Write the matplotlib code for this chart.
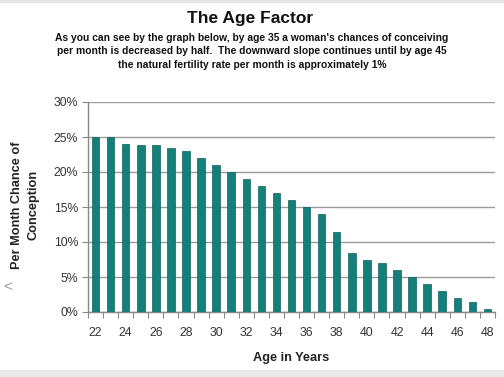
import matplotlib
matplotlib.use("Agg")
import matplotlib.pyplot as plt
from matplotlib.patches import Rectangle
import numpy as np

plt.rcParams['font.family'] = ['Liberation Sans', 'DejaVu Sans']

ages = list(range(22, 49))
rates = [25, 25, 24, 23.8, 23.8, 23.5, 23, 22, 21, 20, 19, 18, 17, 16,
         15, 14, 11.5, 8.5, 7.5, 7, 6, 5, 4, 3, 2, 1.5, 0.5]
yticks = [0, 5, 10, 15, 20, 25, 30]
xtick_labels = [str(a) for a in range(22, 49, 2)]

W, H = 504, 377
fig = plt.figure(figsize=(W / 100, H / 100), dpi=100)
fig.patch.set_facecolor('white')

# frame artifacts
fig.add_artist(Rectangle((0, 0), 1, 7 / H, transform=fig.transFigure,
                         facecolor='#e9e9e9', edgecolor='none'))
fig.add_artist(Rectangle((0, 1 - 3 / H), 1, 3 / H, transform=fig.transFigure,
                         facecolor='#e4e4e4', edgecolor='none'))

ax = fig.add_axes([88 / W, 1 - 312 / H, (495 - 88) / W, (312 - 102) / H])
ax.bar(ages, rates, width=0.5, color='#15807a', edgecolor='#0e5f5a',
       linewidth=0.5, zorder=3)

ax.set_xlim(21.5, 48.5)
ax.set_ylim(0, 30)
ax.set_yticks(yticks)
ax.set_yticklabels([f"{v}%" for v in yticks], fontsize=8.8, color='#333333')
ax.set_xticks(list(range(22, 49, 2)))
ax.set_xticklabels(xtick_labels, fontsize=8.8, color='#333333')
ax.set_xticks(np.arange(21.5, 49, 1), minor=True)
ax.tick_params(axis='x', which='major', length=0, pad=10.5)
ax.tick_params(axis='x', which='minor', length=4, color='#888888', width=0.8)
ax.tick_params(axis='y', length=4, color='#888888', width=0.8, pad=3)

ax.grid(axis='y', color='#9a9a9a', linewidth=1.0, zorder=0)
for s in ['top', 'right']:
    ax.spines[s].set_visible(False)
for s in ['left', 'bottom']:
    ax.spines[s].set_color('#888888')
    ax.spines[s].set_linewidth(1.0)

ax.set_xlabel('Age in Years', fontsize=9.2, fontweight='bold', color='#222222',
              labelpad=9.5)

fig.text(25 / W, 1 - 205 / H, 'Per Month Chance of\nConception', rotation=90,
         ha='center', va='center', fontsize=9.2, fontweight='bold',
         color='#222222', linespacing=1.45)

fig.text(250 / W, 1 - 19 / H, 'The Age Factor', ha='center', va='center',
         fontsize=12.5, fontweight='bold', color='#111111')
sub = ("As you can see by the graph below, by age 35 a woman's chances of conceiving\n"
       "per month is decreased by half.  The downward slope continues until by age 45\n"
       "the natural fertility rate per month is approximately 1%")
fig.text(252 / W, 1 - 51.5 / H, sub, ha='center', va='center', fontsize=7.35,
         fontweight='bold', color='#111111', linespacing=1.45)

fig.text(8 / W, 1 - 287 / H, '<', ha='center', va='center', fontsize=11,
         color='#999999')

fig.savefig('out.png', dpi=100)
